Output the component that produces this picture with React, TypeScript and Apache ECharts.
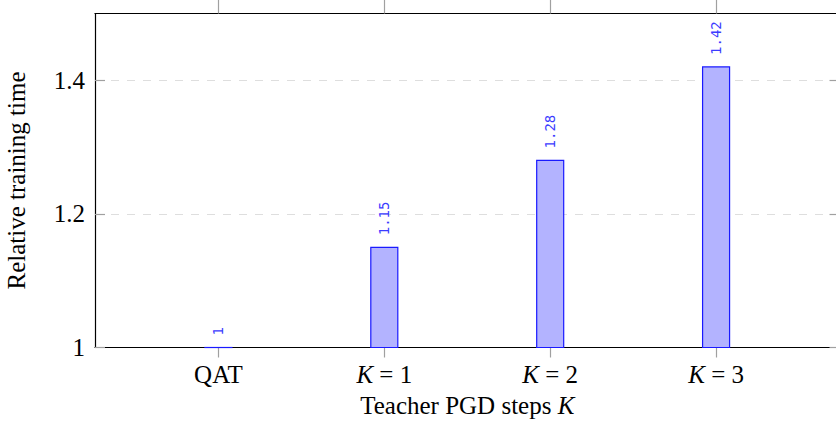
import React, { useEffect, useRef } from "react";
import * as echarts from "echarts";

// Training-cost comparison: QAT baseline vs. teacher PGD with K steps
const categories = ["QAT", "K = 1", "K = 2", "K = 3"];
const relativeTime = [1, 1.15, 1.28, 1.42];
const yTicks = [1, 1.2, 1.4];
const baseline = 1;

const SERIF = "'Liberation Serif', 'Times New Roman', serif";
const MONO = "'DejaVu Sans Mono', monospace";

const italicK = (s: string) => s.replace(/K/g, "{i|K}");

export default function App() {
  const ref = useRef<HTMLDivElement>(null);

  useEffect(() => {
    if (!ref.current) return;
    const chart = echarts.init(ref.current, undefined, { renderer: "svg" });
    const positions = categories.map((_, i) => i);
    const xMin = -0.744;
    const xMax = categories.length - 1 + 0.744;
    const tickGray = "#a0a0a0";
    const barWidth = 27;
    const rich = {
      i: { fontStyle: "italic" as const, fontFamily: SERIF, fontSize: 25, color: "#000" },
    };

    // Bars rise from the baseline (y = 1) rather than from zero
    const renderBar = (params: any, api: any) => {
      const x = api.value(0);
      const v = api.value(1);
      const top = api.coord([x, v]);
      const base = api.coord([x, baseline]);
      return {
        type: "group",
        children: [
          {
            type: "rect",
            shape: {
              x: top[0] - barWidth / 2,
              y: top[1],
              width: barWidth,
              height: Math.max(base[1] - top[1], 0.01),
            },
            style: { fill: "#b3b3ff", stroke: "#1a1aff", lineWidth: 1.2 },
          },
          {
            type: "text",
            x: top[0],
            y: top[1] - 12,
            rotation: Math.PI / 2,
            style: {
              text: String(v),
              fill: "#3b3bff",
              font: `14px ${MONO}`,
              align: "left",
              verticalAlign: "middle",
            },
          },
        ],
      };
    };

    chart.setOption({
      animation: false,
      backgroundColor: "#ffffff",
      grid: {
        left: 95,
        top: 13.5,
        width: 744.5,
        height: 334,
        containLabel: false,
        outerBoundsMode: "none",
      },
      xAxis: [
        {
          type: "value",
          position: "bottom",
          min: xMin,
          max: xMax,
          axisLine: { show: true, onZero: false, lineStyle: { color: "#000", width: 1.2 } },
          axisTick: {
            show: true,
            customValues: positions,
            inside: false,
            length: 10,
            lineStyle: { color: tickGray, width: 1.2 },
          },
          axisLabel: {
            customValues: positions,
            margin: 14,
            fontFamily: SERIF,
            fontSize: 25,
            color: "#000",
            formatter: (v: number) => italicK(categories[Math.round(v)] ?? ""),
            rich,
          },
          splitLine: { show: false },
          name: italicK("Teacher PGD steps K"),
          nameLocation: "middle",
          nameGap: 45,
          nameTextStyle: { fontFamily: SERIF, fontSize: 25, color: "#000", rich },
        },
        {
          type: "value",
          position: "top",
          min: xMin,
          max: xMax,
          axisLine: { show: true, onZero: false, lineStyle: { color: "#000", width: 1.2 } },
          axisTick: {
            show: true,
            customValues: positions,
            inside: false,
            length: 14,
            lineStyle: { color: tickGray, width: 1.2 },
          },
          axisLabel: { show: false },
          splitLine: { show: false },
        },
      ],
      yAxis: [
        {
          type: "value",
          position: "left",
          min: 1,
          max: 1.5,
          interval: 0.2,
          axisLine: { show: true, onZero: false, lineStyle: { color: "#000", width: 1.2 } },
          axisTick: {
            show: true,
            customValues: yTicks,
            inside: true,
            length: 10,
            lineStyle: { color: tickGray, width: 1.2 },
          },
          axisLabel: {
            customValues: yTicks,
            margin: 10,
            fontFamily: SERIF,
            fontSize: 25,
            color: "#000",
          },
          splitLine: {
            show: true,
            lineStyle: { color: "#dedede", type: [8, 8], width: 1 },
          },
          name: "Relative training time",
          nameLocation: "middle",
          nameGap: 66,
          nameTextStyle: { fontFamily: SERIF, fontSize: 25, color: "#000" },
        },
        {
          type: "value",
          position: "right",
          min: 1,
          max: 1.5,
          interval: 0.2,
          axisLine: { show: true, onZero: false, lineStyle: { color: "#000", width: 1.2 } },
          axisTick: {
            show: true,
            customValues: yTicks,
            inside: true,
            length: 10,
            lineStyle: { color: tickGray, width: 1.2 },
          },
          axisLabel: { show: false },
          splitLine: { show: false },
        },
      ],
      series: [
        {
          type: "custom",
          xAxisIndex: 0,
          yAxisIndex: 0,
          z: 5,
          clip: false,
          renderItem: renderBar,
          encode: { x: 0, y: 1 },
          data: relativeTime.map((v, i) => [positions[i], v]),
        },
      ],
    });

    return () => chart.dispose();
  }, []);

  return (
    <div
      ref={ref}
      style={{ position: "fixed", left: 0, top: 0, width: 836, height: 431, background: "#fff" }}
    />
  );
}
